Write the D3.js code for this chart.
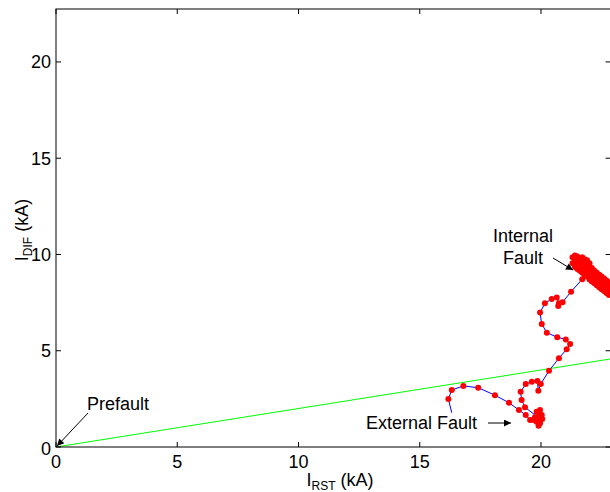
<!DOCTYPE html>
<html><head><meta charset="utf-8">
<script src="https://cdn.jsdelivr.net/npm/d3@7"></script>
<style>body{margin:0;background:#fff}svg{display:block}text{font-family:"Liberation Sans",Arial,sans-serif;fill:#000}</style>
</head><body><svg id="c" width="610" height="492"></svg>
<script>
const xTicks=[0,5,10,15,20];
const yTicks=[0,5,10,15,20];
const thrX=[0,23];
const thrY=[0,4.6];
// trajectory (line + markers)
const pathX=[16.32,16.18,16.32,16.80,17.41,18.10,18.68,19.09,19.37,19.55,19.85,19.34,19.20,19.16,19.37,19.62,19.85,19.89,19.99,20.33,20.74,21.06,21.20,21.02,20.67,20.24,20.03,19.96,20.16,20.44,20.65,20.74,20.71,20.89,21.24,21.70,21.88,22.2];
const pathY=[1.78,2.49,2.96,3.17,3.08,2.69,2.30,1.92,1.66,1.40,1.57,2.06,2.44,2.87,3.27,3.39,3.43,2.92,3.27,3.96,4.61,5.08,5.35,5.59,5.70,5.94,6.39,6.98,7.46,7.69,7.76,7.46,7.32,7.52,8.07,8.71,9.02,8.8];
const pathMarker=[0,1,1,1,1,1,1,1,1,1,0,1,1,1,1,1,1,1,1,1,1,1,1,1,1,1,1,1,1,1,1,1,1,1,1,1,1,1];
// external fault cluster
const extX=[19.82,19.96,20.03,19.89,19.68,19.96,19.82,19.93,19.75,20.05,19.90];
const extY=[1.83,1.92,1.66,1.49,1.40,1.23,1.31,1.71,1.55,1.45,1.10];
// internal fault cluster
const intX=[21.30,21.30,21.40,21.40,21.40,21.50,21.50,21.50,21.60,21.60,21.60,21.70,21.70,21.70,21.70,21.80,21.80,21.80,21.80,21.90,21.90,21.90,21.90,22.00,22.00,22.00,22.00,22.10,22.10,22.10,22.10,22.20,22.20,22.20,22.20,22.30,22.30,22.30,22.30,22.40,22.40,22.40,22.40,22.50,22.50,22.50,22.50,22.60,22.60,22.60,22.60,22.70,22.70,22.70,22.70,22.80,22.80,22.80,22.80,22.90,22.90,22.90];
const intY=[9.85,9.55,9.95,9.70,9.35,9.90,9.55,9.25,9.80,9.50,9.15,9.85,9.60,9.30,9.05,9.75,9.45,9.15,8.95,9.70,9.35,9.05,8.85,9.55,9.25,8.95,8.70,9.30,9.05,8.80,8.60,9.15,8.90,8.70,8.50,9.05,8.80,8.55,8.40,8.95,8.70,8.45,8.30,8.85,8.60,8.35,8.20,8.75,8.50,8.25,8.10,8.65,8.40,8.15,8.00,8.55,8.30,8.05,7.90,8.45,8.20,7.95];

const L=56,R=610.6,T=9,B=447;
const x=d3.scaleLinear().domain([0,22.87]).range([L,R]);
const y=d3.scaleLinear().domain([0,22.75]).range([B,T]);
const svg=d3.select("#c");
const defs=svg.append("defs");
defs.append("clipPath").attr("id","clip").append("rect").attr("x",L).attr("y",T).attr("width",R-L).attr("height",B-T);
defs.append("marker").attr("id","ah").attr("viewBox","0 0 10 10").attr("refX",10).attr("refY",5)
 .attr("markerWidth",10).attr("markerHeight",7).attr("markerUnits","userSpaceOnUse").attr("orient","auto")
 .append("path").attr("d","M0,0L10,5L0,10Z").attr("fill","#000");

const g=svg.append("g").attr("clip-path","url(#clip)");
g.append("path").datum(thrX.map((v,i)=>[v,thrY[i]]))
 .attr("d",d3.line().x(d=>x(d[0])).y(d=>y(d[1]))).attr("fill","none").attr("stroke","#00ff00").attr("stroke-width",1);
g.append("path").datum(pathX.map((v,i)=>[v,pathY[i]]))
 .attr("d",d3.line().x(d=>x(d[0])).y(d=>y(d[1]))).attr("fill","none").attr("stroke","#0000ff").attr("stroke-width",1);
const dots=[];
pathX.forEach((v,i)=>{if(pathMarker[i])dots.push([v,pathY[i]]);});
extX.forEach((v,i)=>dots.push([v,extY[i]]));
intX.forEach((v,i)=>dots.push([v,intY[i]]));
g.selectAll("circle").data(dots).join("circle").attr("cx",d=>x(d[0])).attr("cy",d=>y(d[1])).attr("r",3).attr("fill","#ff0000");

// axes box
const ax=svg.append("g");
ax.append("rect").attr("x",L).attr("y",T).attr("width",R-L).attr("height",B-T).attr("fill","none").attr("stroke","#000").attr("stroke-width",1);
const tl=5;
xTicks.forEach(t=>{
 ax.append("line").attr("x1",x(t)).attr("x2",x(t)).attr("y1",B).attr("y2",B-tl).attr("stroke","#000");
 ax.append("line").attr("x1",x(t)).attr("x2",x(t)).attr("y1",T).attr("y2",T+tl).attr("stroke","#000");
 ax.append("text").attr("x",x(t)).attr("y",B+21).attr("text-anchor","middle").attr("font-size",18).text(t);
});
yTicks.forEach(t=>{
 ax.append("line").attr("x1",L).attr("x2",L+tl).attr("y1",y(t)).attr("y2",y(t)).attr("stroke","#000");
 ax.append("line").attr("x1",R).attr("x2",R-tl).attr("y1",y(t)).attr("y2",y(t)).attr("stroke","#000");
 ax.append("text").attr("x",L-5).attr("y",y(t)+(t===0?8:6.5)).attr("text-anchor","end").attr("font-size",18).text(t);
});
// axis titles
const xt=svg.append("text").attr("x",340).attr("y",486).attr("text-anchor","middle").attr("font-size",18);
xt.append("tspan").text("I");
xt.append("tspan").attr("font-size",12).attr("dy",4).text("RST");
xt.append("tspan").attr("dy",-4).text(" (kA)");
const yt=svg.append("text").attr("transform","translate(28,230) rotate(-90)").attr("text-anchor","middle").attr("font-size",18);
yt.append("tspan").text("I");
yt.append("tspan").attr("font-size",12).attr("dy",4).text("DIF");
yt.append("tspan").attr("dy",-4).text(" (kA)");

// annotations
function arrow(x1,y1,x2,y2){svg.append("line").attr("x1",x1).attr("y1",y1).attr("x2",x2).attr("y2",y2).attr("stroke","#000").attr("stroke-width",1).attr("marker-end","url(#ah)");}
svg.append("text").attr("x",87).attr("y",410).attr("font-size",18).text("Prefault");
arrow(88,413,57,446);
svg.append("text").attr("x",366).attr("y",429).attr("font-size",18).text("External Fault");
arrow(488,423,511,423);
svg.append("text").attr("x",523).attr("y",242).attr("text-anchor","middle").attr("font-size",18).text("Internal");
svg.append("text").attr("x",523).attr("y",264).attr("text-anchor","middle").attr("font-size",18).text("Fault");
arrow(553,258,573,270);
</script></body></html>
